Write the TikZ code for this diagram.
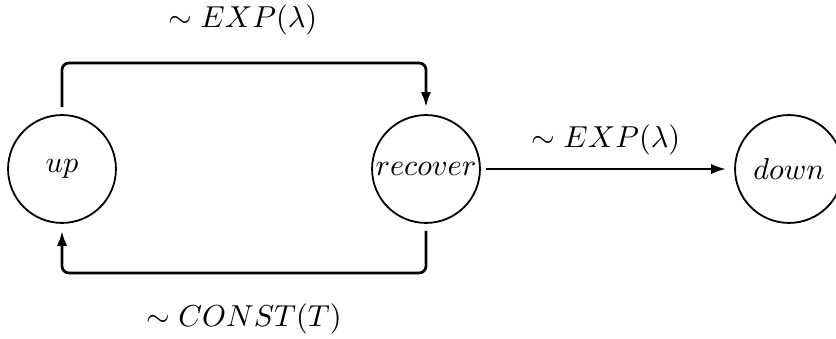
\documentclass[tikz,border=0pt]{standalone}
\usetikzlibrary{arrows.meta}
\begin{document}
\begin{tikzpicture}[x=0.33pt,y=-0.33pt,
  state/.style={circle,draw,semithick,minimum size=35.6pt,inner sep=0pt},
  conn/.style={line width=0.9pt,-{Latex[length=5pt,width=3.4pt]},rounded corners=2.3pt,shorten <=2.3pt,shorten >=2.3pt},
  lbl/.style={inner sep=0pt}]
\clip (0,0) rectangle (836,339);
\useasboundingbox (0,0) rectangle (836,339);
\node[state] (up) at (62,169) {$up$};
\node[state] (recover) at (426,169) {$recover$};
\node[state] (down) at (789,169) {$down$};
\coordinate (tl) at (62,63);
\coordinate (tr) at (426,63);
\coordinate (bl) at (62,273);
\coordinate (br) at (426,273);
\draw[conn] (up.north) -- (tl) -- (tr) -- (recover.north);
\draw[conn] (recover.south) -- (br) -- (bl) -- (up.south);
\draw[conn,shorten <=1.6pt,shorten >=2.6pt] (recover.east) -- (down.west);
\node[lbl] (l1) at (243,20) {$\sim EXP(\lambda)$};
\node[lbl] (l2) at (606,140) {$\sim EXP(\lambda)$};
\node[lbl] (l3) at (244,319) {$\sim CONST(T)$};
\end{tikzpicture}
\end{document}
